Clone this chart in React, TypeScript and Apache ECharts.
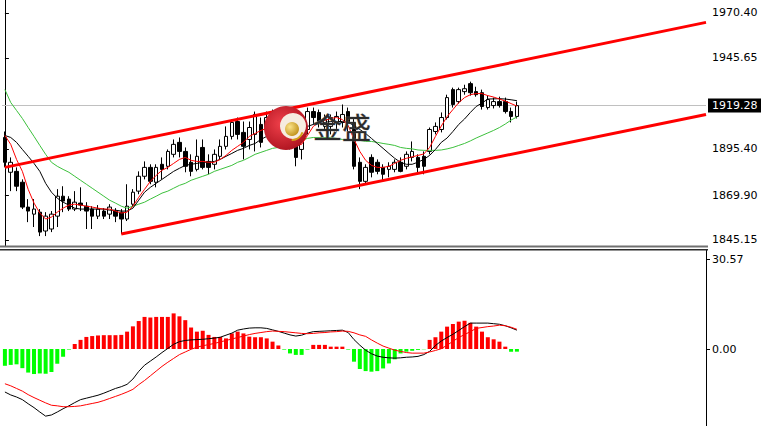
import React, { useEffect, useRef } from 'react';
import * as echarts from 'echarts';

const SLOT_COUNT = 121;

const opens = [
  1901.7, 1882.5, 1883.0, 1877.0, 1863.3, 1859.4, 1860.5, 1850.1, 1851.2, 1858.3,
  1869.3, 1867.7, 1862.2, 1865.5, 1863.8, 1862.2, 1858.3, 1861.1, 1859.4, 1861.1,
  1860.5, 1856.7, 1864.9, 1872.1, 1880.3, 1885.2, 1877.0, 1886.9, 1885.8, 1892.4,
  1899.0, 1894.0, 1888.0, 1884.1, 1896.2, 1888.5, 1886.9, 1891.3, 1896.8, 1902.3,
  1910.5, 1904.5, 1900.6, 1903.4, 1908.9, 1906.1, 1914.4, 1907.2, 1908.9, 1905.0,
  1897.9, 1895.1, 1906.1, 1916.0, 1915.5, 1907.8, 1907.8, 1910.0, 1910.0, 1916.0,
  1910.0, 1888.0, 1877.5, 1890.7, 1888.0, 1885.2, 1884.1, 1884.1, 1888.0, 1885.8,
  1890.7, 1890.7, 1891.3, 1894.0, 1905.0, 1906.1, 1912.7, 1928.1, 1921.5, 1927.0,
  1931.4, 1927.0, 1926.4, 1918.2, 1919.3, 1921.5, 1921.5, 1916.0, 1913.3
];
const highs = [
  1905.0, 1890.7, 1885.2, 1878.6, 1867.7, 1867.7, 1862.2, 1860.5, 1861.1, 1873.2,
  1874.8, 1869.3, 1872.1, 1874.2, 1866.0, 1863.8, 1864.4, 1862.7, 1864.9, 1862.7,
  1862.2, 1875.9, 1873.2, 1883.0, 1888.5, 1886.9, 1886.9, 1890.7, 1895.1, 1900.6,
  1901.7, 1896.2, 1892.4, 1900.6, 1900.6, 1892.4, 1895.1, 1900.6, 1907.8, 1911.6,
  1912.7, 1910.5, 1910.5, 1916.0, 1912.7, 1916.0, 1917.1, 1915.5, 1912.7, 1908.9,
  1900.6, 1906.1, 1918.2, 1918.2, 1917.1, 1914.4, 1914.4, 1916.0, 1919.9, 1918.2,
  1912.7, 1890.7, 1886.9, 1892.4, 1889.6, 1886.9, 1888.0, 1889.6, 1890.7, 1894.0,
  1899.5, 1892.4, 1894.0, 1907.2, 1910.0, 1915.5, 1925.3, 1929.2, 1929.2, 1930.8,
  1932.5, 1929.7, 1928.1, 1924.8, 1923.7, 1924.2, 1923.7, 1918.2, 1921.5
];
const lows = [
  1885.2, 1872.1, 1872.1, 1862.2, 1855.0, 1852.3, 1847.3, 1847.3, 1849.5, 1852.3,
  1860.5, 1861.1, 1861.1, 1861.1, 1851.2, 1851.2, 1856.7, 1856.7, 1856.7, 1855.0,
  1848.4, 1855.6, 1863.3, 1870.4, 1878.6, 1875.9, 1874.2, 1878.6, 1884.1, 1890.7,
  1890.7, 1882.5, 1880.3, 1883.0, 1884.1, 1881.4, 1884.1, 1889.6, 1895.1, 1900.6,
  1900.6, 1889.6, 1895.1, 1894.0, 1896.2, 1903.4, 1905.0, 1905.0, 1899.5, 1895.1,
  1885.8, 1889.6, 1903.4, 1908.9, 1907.2, 1906.1, 1903.4, 1905.0, 1907.2, 1905.0,
  1884.1, 1873.2, 1875.9, 1879.7, 1881.4, 1877.5, 1879.7, 1882.5, 1882.5, 1884.1,
  1888.5, 1881.4, 1881.4, 1892.4, 1903.4, 1904.5, 1911.6, 1918.2, 1920.4, 1925.3,
  1924.8, 1924.2, 1917.1, 1917.1, 1917.7, 1918.2, 1914.9, 1910.0, 1912.2
];
const closes = [
  1888.0, 1888.0, 1874.8, 1863.3, 1861.1, 1862.2, 1849.5, 1858.3, 1859.4, 1869.3,
  1866.6, 1862.2, 1866.0, 1864.4, 1861.1, 1858.3, 1862.2, 1858.3, 1863.3, 1858.3,
  1856.7, 1863.8, 1871.5, 1880.3, 1885.2, 1877.5, 1885.2, 1884.1, 1894.0, 1897.9,
  1894.0, 1885.8, 1883.0, 1891.3, 1885.2, 1885.2, 1892.4, 1896.8, 1902.3, 1910.0,
  1903.4, 1896.8, 1907.2, 1914.4, 1899.0, 1912.7, 1907.2, 1911.6, 1901.7, 1897.9,
  1890.7, 1903.4, 1916.0, 1912.7, 1910.5, 1911.6, 1912.7, 1913.3, 1914.4, 1910.0,
  1885.8, 1877.5, 1885.2, 1882.5, 1883.0, 1881.4, 1885.8, 1888.0, 1883.0, 1892.4,
  1894.0, 1885.2, 1885.8, 1906.1, 1907.8, 1912.7, 1923.7, 1919.9, 1928.1, 1928.6,
  1926.4, 1925.3, 1918.8, 1922.6, 1921.5, 1919.3, 1916.0, 1913.3, 1919.28
];

const maFast = [
  1902.8, 1897.9, 1889.6, 1883.0, 1873.1, 1865.5, 1860.0, 1856.7, 1857.8, 1860.5,
  1862.7, 1864.4, 1864.9, 1864.4, 1863.8, 1863.3, 1862.7, 1862.2, 1862.2, 1861.1,
  1860.0, 1860.5, 1863.8, 1868.7, 1873.1, 1877.5, 1880.8, 1883.6, 1885.2, 1887.4,
  1889.6, 1890.7, 1889.1, 1888.5, 1888.5, 1888.0, 1888.0, 1889.6, 1891.8, 1894.6,
  1896.8, 1899.0, 1902.3, 1903.9, 1905.6, 1906.7, 1907.2, 1906.7, 1904.5, 1900.6,
  1897.3, 1897.9, 1902.8, 1907.8, 1910.0, 1911.1, 1912.2, 1912.7, 1911.6, 1908.3,
  1900.6, 1894.0, 1889.1, 1886.3, 1885.2, 1885.2, 1885.8, 1887.4, 1889.1, 1890.2,
  1891.0, 1891.8, 1892.6, 1896.2, 1902.3, 1908.0, 1913.2, 1917.1, 1920.9, 1923.7,
  1925.3, 1925.9, 1925.9, 1924.8, 1924.0, 1922.9, 1921.8, 1920.4, 1919.0
];
const maMid = [
  1902.8, 1901.7, 1899.0, 1895.1, 1891.3, 1887.4, 1883.0, 1876.4, 1871.5, 1868.2,
  1866.0, 1864.4, 1862.7, 1862.2, 1862.2, 1862.2, 1862.2, 1862.2, 1861.6, 1861.6,
  1861.1, 1861.1, 1862.7, 1867.1, 1871.5, 1874.2, 1876.4, 1878.6, 1880.8, 1883.0,
  1884.7, 1886.3, 1886.9, 1887.4, 1888.0, 1888.0, 1888.5, 1889.6, 1891.3, 1892.9,
  1894.6, 1895.7, 1897.3, 1898.4, 1900.6, 1902.3, 1903.9, 1905.0, 1905.6, 1906.1,
  1906.7, 1907.2, 1907.8, 1908.9, 1909.4, 1910.0, 1910.5, 1910.5, 1910.5, 1910.0,
  1908.3, 1906.1, 1903.9, 1901.2, 1898.4, 1895.7, 1892.9, 1890.2, 1888.0, 1886.9,
  1886.9, 1888.1, 1889.6, 1891.8, 1895.1, 1899.0, 1901.4, 1905.0, 1908.9, 1911.9,
  1915.5, 1918.8, 1920.7, 1922.9, 1923.0, 1923.1, 1922.9, 1922.5, 1922.0
];
const maSlow = [
  1928.1, 1921.0, 1916.6, 1912.2, 1907.2, 1902.3, 1897.3, 1892.4, 1888.0, 1885.8,
  1884.1, 1882.5, 1880.3, 1878.1, 1875.9, 1873.7, 1871.5, 1869.3, 1867.1, 1865.5,
  1863.8, 1862.7, 1863.8, 1864.9, 1866.0, 1867.7, 1869.3, 1871.0, 1872.1, 1873.7,
  1875.3, 1876.4, 1878.1, 1879.2, 1880.3, 1881.4, 1883.0, 1884.1, 1885.2, 1886.3,
  1888.0, 1889.1, 1890.7, 1892.4, 1893.5, 1894.6, 1895.7, 1896.2, 1897.3, 1897.9,
  1899.0, 1900.1, 1901.2, 1901.7, 1901.7, 1901.7, 1901.7, 1901.2, 1900.6, 1900.6,
  1900.1, 1900.1, 1899.5, 1899.5, 1899.0, 1898.4, 1897.9, 1897.3, 1896.2, 1895.7,
  1895.4, 1894.8, 1894.6, 1894.6, 1894.6, 1894.8, 1895.4, 1896.2, 1897.3, 1898.4,
  1899.8, 1901.4, 1902.8, 1904.2, 1905.6, 1907.2, 1909.1, 1911.3, 1913.0
];

const macdMain = [
  -14.6, -15.6, -16.3, -17.2, -18.6, -19.9, -21.4, -22.8, -22.4, -21.4,
  -20.3, -19.3, -18.2, -17.2, -16.7, -16.2, -15.7, -15.0, -14.2, -13.4,
  -12.8, -12.0, -10.2, -7.6, -5.5, -4.1, -2.7, -1.2, 0.2, 1.6,
  2.5, 2.9, 3.1, 3.2, 3.3, 3.5, 3.7, 4.0, 4.7, 5.4,
  6.4, 6.8, 7.1, 7.2, 7.2, 7.0, 6.5, 6.0, 5.4, 4.8,
  4.4, 4.7, 5.4, 5.9, 6.0, 6.1, 6.2, 6.3, 6.4, 5.6,
  3.2, 1.3, -0.4, -1.6, -2.4, -2.8, -3.0, -3.1, -3.0, -2.8,
  -2.7, -2.5, -1.9, -0.8, 1.2, 2.7, 3.9, 5.0, 6.3, 7.6,
  8.8, 8.8, 8.8, 8.8, 8.6, 8.4, 7.9, 7.2, 6.4
];
const macdSignal = [
  -11.8, -12.5, -13.4, -14.3, -15.5, -16.5, -17.4, -18.3, -19.1, -19.3,
  -19.6, -19.6, -19.5, -19.3, -18.9, -18.5, -18.1, -17.5, -16.8, -16.1,
  -15.4, -14.6, -13.7, -12.1, -10.7, -9.1, -7.5, -5.9, -4.5, -3.2,
  -1.9, -1.0, -0.1, 0.6, 1.1, 1.5, 1.9, 2.4, 2.9, 3.4,
  3.9, 4.4, 4.9, 5.3, 5.6, 5.9, 6.1, 6.0, 5.9, 5.7,
  5.5, 5.3, 5.2, 5.3, 5.5, 5.6, 5.8, 5.9, 6.1, 6.0,
  5.5, 4.8, 4.3, 3.1, 2.0, 1.0, 0.3, -0.4, -0.8, -1.2,
  -1.4, -1.4, -1.4, -1.0, -0.5, 0.1, 1.3, 2.6, 3.9, 4.9,
  5.9, 7.0, 7.3, 7.6, 7.8, 8.1, 7.9, 7.4, 6.7
];
const macdHist = [
  -5.7, -5.4, -5.2, -6.5, -8.0, -8.5, -8.3, -8.4, -7.8, -5.0,
  -2.6, -0.2, 1.7, 3.1, 4.1, 4.4, 4.6, 4.7, 4.7, 4.7,
  4.8, 5.9, 7.7, 9.5, 10.9, 10.7, 10.9, 10.9, 10.9, 12.1,
  11.1, 9.8, 7.3, 5.9, 6.2, 4.8, 4.1, 4.1, 3.6, 5.3,
  5.9, 5.3, 4.2, 4.0, 4.0, 3.6, 2.5, 1.2, -0.2, -1.5,
  -2.0, -2.0, -0.2, 1.4, 1.4, 1.4, 0.8, 0.8, 0.8, -0.2,
  -4.3, -6.8, -7.5, -7.7, -7.5, -6.6, -4.9, -3.5, -1.5, -0.9,
  -0.6, -0.3, -0.1, 3.1, 4.0, 5.9, 7.6, 8.5, 9.3, 9.6,
  8.9, 7.6, 5.9, 4.0, 3.3, 2.5, 0.8, -0.9, -0.9
];

const priceTicks = [1845.15, 1869.9, 1895.4, 1945.65, 1970.4];
const lastPrice = 1919.28;
const macdTicks = [0, 30.57];
const upperChannel = [[0, 1885.2], [120.5, 1965.2]];
const lowerChannel = [[20, 1848.4], [120.5, 1914.4]];

const PRICE_MIN = 1841.83;
const PRICE_MAX = 1977.54;
const MACD_MIN = -26.15;
const MACD_MAX = 33.63;

const FONT = 'DejaVu Sans';

export default function App() {
  const ref = useRef<HTMLDivElement>(null);
  useEffect(() => {
    if (!ref.current) return;
    const chart = echarts.init(ref.current, undefined, { renderer: 'svg' });
    const cats = Array.from({ length: SLOT_COUNT }, (_, i) => String(i));
    const candleData = opens.map((o, i) => [o, closes[i], lows[i], highs[i]]);
    const axisCommon = {
      position: 'right' as const,
      scale: true,
      axisLine: { show: true, lineStyle: { color: '#000', width: 1 } },
      axisTick: { show: true, length: 4, lineStyle: { color: '#000' } },
      splitLine: { show: false },
    };
    chart.setOption({
      animation: false,
      backgroundColor: '#fff',
      grid: [
        { left: 2, right: 55, top: 0, height: 246 },
        { left: 2, right: 55, top: 250, bottom: 0 },
      ],
      xAxis: [
        { type: 'category', gridIndex: 0, data: cats, boundaryGap: true, show: false },
        { type: 'category', gridIndex: 1, data: cats, boundaryGap: true, show: false },
        { type: 'value', gridIndex: 0, min: -0.5, max: SLOT_COUNT - 0.5, show: false },
      ],
      yAxis: [
        {
          ...axisCommon,
          type: 'value',
          gridIndex: 0,
          min: PRICE_MIN,
          max: PRICE_MAX,
          axisTick: { ...axisCommon.axisTick, customValues: priceTicks },
          axisLabel: {
            customValues: priceTicks,
            formatter: (v: number) => v.toFixed(2),
            color: '#000',
            fontFamily: FONT,
            fontSize: 11,
            margin: 6,
          },
        },
        {
          ...axisCommon,
          type: 'value',
          gridIndex: 1,
          min: MACD_MIN,
          max: MACD_MAX,
          axisTick: { ...axisCommon.axisTick, customValues: macdTicks },
          axisLabel: {
            customValues: macdTicks,
            formatter: (v: number) => v.toFixed(2),
            color: '#000',
            fontFamily: FONT,
            fontSize: 11,
            margin: 6,
          },
        },
      ],
      series: [
        {
          type: 'candlestick',
          xAxisIndex: 0,
          yAxisIndex: 0,
          data: candleData,
          barWidth: 4,
          itemStyle: {
            color: '#ffffff',
            color0: '#000000',
            borderColor: '#000000',
            borderColor0: '#000000',
            borderWidth: 1,
          },
          markLine: {
            silent: true,
            symbol: ['none', 'none'],
            z: 1,
            lineStyle: { color: '#c0c0c0', width: 1, type: 'solid' },
            label: {
              show: true,
              position: 'end',
              distance: 2,
              formatter: () => lastPrice.toFixed(2),
              color: '#fff',
              backgroundColor: '#000',
              padding: [2, 6, 1, 4],
              fontFamily: FONT,
              fontSize: 11,
            },
            data: [{ yAxis: lastPrice }],
          },
        },
        {
          type: 'line', xAxisIndex: 0, yAxisIndex: 0, data: maSlow, showSymbol: false,
          lineStyle: { color: '#3cc03c', width: 1 }, z: 3,
        },
        {
          type: 'line', xAxisIndex: 0, yAxisIndex: 0, data: maMid, showSymbol: false,
          lineStyle: { color: '#000', width: 1 }, z: 3,
        },
        {
          type: 'line', xAxisIndex: 0, yAxisIndex: 0, data: maFast, showSymbol: false,
          lineStyle: { color: '#ff0000', width: 1 }, z: 3,
        },
        {
          type: 'line', xAxisIndex: 2, yAxisIndex: 0, data: upperChannel, showSymbol: false,
          lineStyle: { color: '#ff0000', width: 3 }, z: 4,
        },
        {
          type: 'line', xAxisIndex: 2, yAxisIndex: 0, data: lowerChannel, showSymbol: false,
          lineStyle: { color: '#ff0000', width: 3 }, z: 4,
        },
        {
          type: 'bar', xAxisIndex: 1, yAxisIndex: 1, data: macdHist, barWidth: 4,
          itemStyle: { color: (p: any) => (p.value >= 0 ? '#ff0000' : '#00ff00') },
        },
        {
          type: 'line', xAxisIndex: 1, yAxisIndex: 1, data: macdMain, showSymbol: false,
          lineStyle: { color: '#000', width: 1 }, z: 3,
        },
        {
          type: 'line', xAxisIndex: 1, yAxisIndex: 1, data: macdSignal, showSymbol: false,
          lineStyle: { color: '#ff0000', width: 1 }, z: 3,
        },
      ],
      graphic: [
        { type: 'rect', z: 50, shape: { x: 0, y: 245.5, width: 708, height: 2 }, style: { fill: '#707070' } },
        { type: 'rect', z: 50, shape: { x: 0, y: 249, width: 708, height: 1.5 }, style: { fill: '#2a2a2a' } },
        {
          type: 'circle',
          z: 100,
          shape: { cx: 286, cy: 128, r: 22 },
          style: {
            fill: new echarts.graphic.RadialGradient(0.4, 0.4, 0.7, [
              { offset: 0, color: '#f0404a' },
              { offset: 1, color: '#a8101c' },
            ]),
          },
        },
        {
          type: 'circle',
          z: 101,
          shape: { cx: 293, cy: 126, r: 13 },
          style: { fill: '#f6ece0' },
        },
        {
          type: 'circle',
          z: 102,
          shape: { cx: 292, cy: 129, r: 7 },
          style: {
            fill: new echarts.graphic.RadialGradient(0.35, 0.35, 0.8, [
              { offset: 0, color: '#fbe38a' },
              { offset: 1, color: '#b8860b' },
            ]),
          },
        },
        {
          type: 'arc',
          z: 102,
          shape: { cx: 292, cy: 129, r: 11, startAngle: 0.3, endAngle: 1.6 },
          style: { stroke: '#d4a017', lineWidth: 2, fill: 'none' },
        },
        {
          type: 'text',
          z: 103,
          x: 313,
          y: 126,
          style: {
            text: '金盛',
            font: '29px "Noto Sans CJK SC"',
            fill: '#2b2b2b',
            stroke: '#8a8a8a',
            lineWidth: 0.6,
            verticalAlign: 'middle',
            align: 'left',
          },
        },
      ],
    });
    return () => chart.dispose();
  }, []);
  return (
    <div
      ref={ref}
      style={{ position: 'fixed', left: 0, top: 0, width: 761, height: 426, background: '#fff' }}
    />
  );
}
